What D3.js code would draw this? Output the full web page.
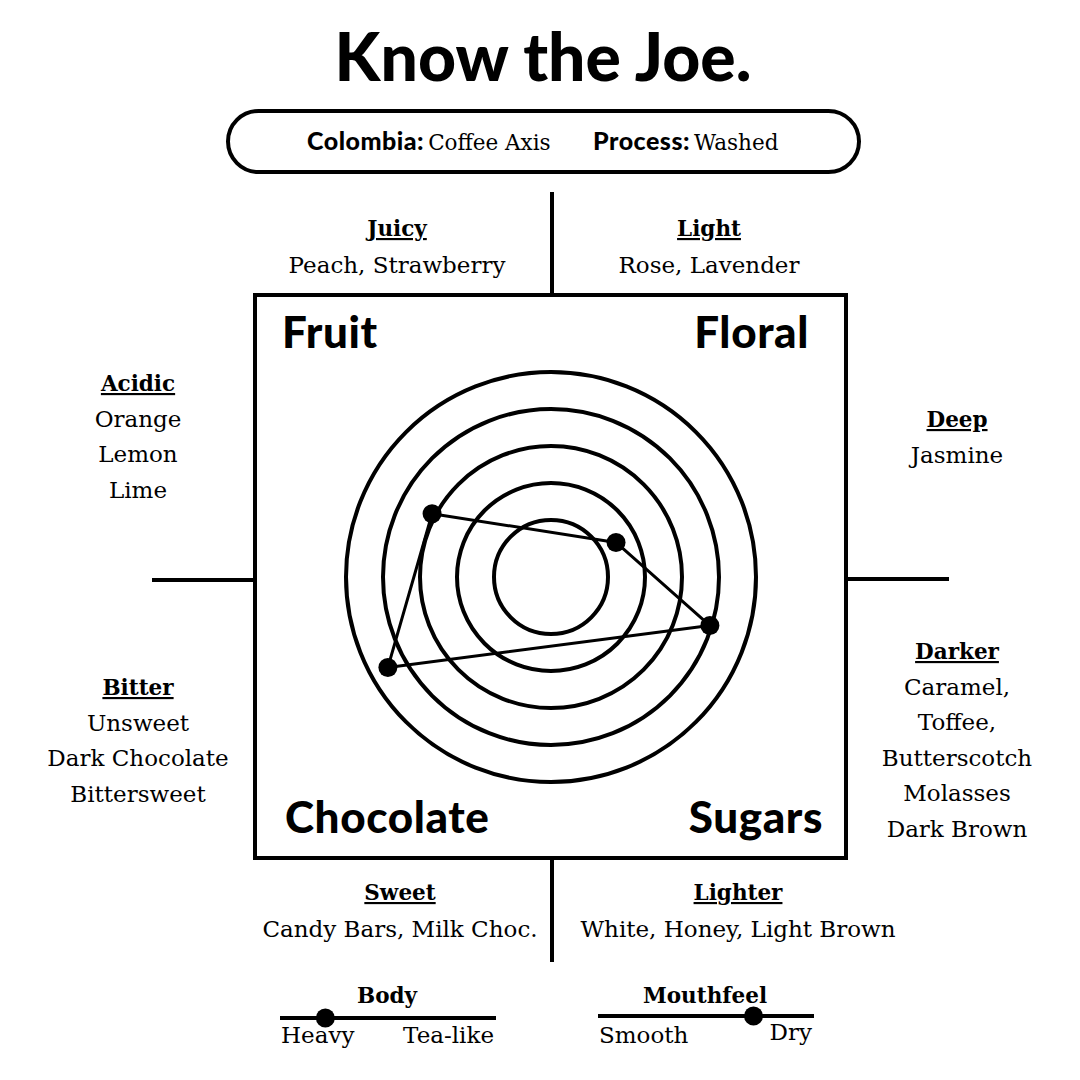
<!DOCTYPE html>
<html>
<head>
<meta charset="utf-8">
<script src="https://cdn.jsdelivr.net/npm/d3@7"></script>
<style>
  html, body { margin: 0; padding: 0; background: #fff; }
  svg { display: block; }
  .sans { font-family: Lato, "Open Sans", sans-serif; font-weight: 900; }
  .serif { font-family: "DejaVu Serif", serif; }
</style>
</head>
<body>
<div id="chart"></div>
<script>
// ---- data ----
const origin = "Colombia:", originName = "Coffee Axis"
const processLabel = "Process:", processName = "Washed"

const flavours = ["Fruit", "Floral", "Sugars", "Chocolate"]
const flavourAngles = [-62, 62, 107, -119]      // degrees, clockwise from 12 o'clock
const flavourScores = [3.1, 1.45, 3.95, 4.5]     // ring units, 0..5
const ringLevels = [1, 2, 3, 4, 5]

const noteHeads = ["Juicy", "Light", "Acidic", "Deep", "Bitter", "Darker", "Sweet", "Lighter"]
const noteLines = [
    ["Peach, Strawberry"],
    ["Rose, Lavender"],
    ["Orange", "Lemon", "Lime"],
    ["Jasmine"],
    ["Unsweet", "Dark Chocolate", "Bittersweet"],
    ["Caramel,", "Toffee,", "Butterscotch", "Molasses", "Dark Brown"],
    ["Candy Bars, Milk Choc."],
    ["White, Honey, Light Brown"]
]

const sliderNames = ["Body", "Mouthfeel"]
const sliderEnds = [["Heavy", "Tea-like"], ["Smooth", "Dry"]]
const sliderValues = [0.21, 0.72]                 // 0 = left end, 1 = right end

// ---- layout ----
let width = 1080, height = 1080,
    svg = d3.select("#chart").append("svg")
        .attr("width", width)
        .attr("height", height)

const cx = 551, cy = 577
const box = {x0: 255, y0: 295, x1: 846, y1: 858}
const stroke = 4
const itemSize = 23, headSize = 21.5

//TITLE
svg.append("text")
    .attr("class", "sans")
    .attr("x", 543).attr("y", 81)
    .attr("text-anchor", "middle")
    .attr("font-size", 66)
    .text("Know the Joe.")

//ORIGIN PILL
svg.append("rect")
    .attr("x", 228).attr("y", 111)
    .attr("width", 631).attr("height", 61)
    .attr("rx", 30.5)
    .attr("fill", "none").attr("stroke", "#000").attr("stroke-width", stroke)

function pillText(x, label, name) {
    let t = svg.append("text").attr("x", x).attr("y", 150)
    t.append("tspan").attr("class", "sans").attr("font-size", 25)
        .attr("letter-spacing", 0.5).text(label)
    t.append("tspan").attr("class", "serif").attr("font-size", 21.5)
        .attr("dx", 4).text(name)
}
pillText(307, origin, originName)
pillText(593, processLabel, processName)

//FRAME + TICK LINES
const frame = svg.append("g").attr("stroke", "#000").attr("stroke-width", stroke).attr("fill", "none")
frame.append("rect")
    .attr("x", box.x0).attr("y", box.y0)
    .attr("width", box.x1 - box.x0).attr("height", box.y1 - box.y0)
frame.append("line").attr("x1", 552).attr("x2", 552).attr("y1", 192).attr("y2", box.y0)
frame.append("line").attr("x1", 552).attr("x2", 552).attr("y1", box.y1).attr("y2", 962)
frame.append("line").attr("x1", 152).attr("x2", box.x0).attr("y1", 580).attr("y2", 580)
frame.append("line").attr("x1", box.x1).attr("x2", 949).attr("y1", 579).attr("y2", 579)

//QUADRANT LABELS
const quadPos = [
    {x: 282, y: 348, anchor: "start"},
    {x: 809, y: 348, anchor: "end"},
    {x: 823, y: 833, anchor: "end"},
    {x: 285, y: 833, anchor: "start"}
]
svg.append("g").selectAll("text")
    .data(flavours)
    .enter().append("text")
    .attr("class", "sans")
    .attr("font-size", 44)
    .attr("letter-spacing", 0.6)
    .attr("x", (d, i) => quadPos[i].x)
    .attr("y", (d, i) => quadPos[i].y)
    .attr("text-anchor", (d, i) => quadPos[i].anchor)
    .text(d => d)

//RADAR
const r = d3.scaleLinear().domain([0, 5]).range([20, 205])
const radar = svg.append("g").attr("transform", "translate(" + cx + "," + cy + ")")

radar.selectAll("circle.ring")
    .data(ringLevels)
    .enter().append("circle")
    .attr("class", "ring")
    .attr("r", d => r(d))
    .attr("fill", "none")
    .attr("stroke", "#000")
    .attr("stroke-width", stroke)

const pts = flavours.map((f, i) => ({name: f, a: flavourAngles[i] * Math.PI / 180, v: flavourScores[i]}))
const line = d3.lineRadial()
    .angle(d => d.a)
    .radius(d => r(d.v))
    .curve(d3.curveLinearClosed)

radar.append("path")
    .datum(pts)
    .attr("d", line)
    .attr("fill", "none")
    .attr("stroke", "#000")
    .attr("stroke-width", 3)
    .attr("stroke-linejoin", "round")

radar.selectAll("circle.pt")
    .data(pts)
    .enter().append("circle")
    .attr("class", "pt")
    .attr("cx", d => d3.pointRadial(d.a, r(d.v))[0])
    .attr("cy", d => d3.pointRadial(d.a, r(d.v))[1])
    .attr("r", 9.5)
    .attr("fill", "#000")

//NOTES
const notePos = [
    {x: 397, y: 236}, {x: 709, y: 236},
    {x: 138, y: 391}, {x: 957, y: 427},
    {x: 138, y: 695}, {x: 957, y: 659},
    {x: 400, y: 900}, {x: 738, y: 900}
]
const lineGap = 35.5
const notes = svg.append("g").attr("class", "serif").attr("text-anchor", "middle")
    .selectAll("g")
    .data(noteHeads)
    .enter().append("g")
    .attr("transform", (d, i) => "translate(" + notePos[i].x + "," + notePos[i].y + ")")

notes.append("text")
    .attr("font-size", headSize)
    .attr("font-weight", 700)
    .attr("text-decoration", "underline")
    .text(d => d)

notes.each(function (d, i) {
    d3.select(this).selectAll("text.item")
        .data(noteLines[i])
        .enter().append("text")
        .attr("class", "item")
        .attr("font-size", itemSize)
        .attr("y", (t, j) => (j + 1) * lineGap + (i < 2 || i > 5 ? 1.5 : 0))
        .text(t => t)
})

//SLIDERS
const sliderX = [[280, 496], [598, 814]]
const sliderY = [1018, 1016]
sliderNames.forEach((name, i) => {
    let x = d3.scaleLinear().domain([0, 1]).range(sliderX[i])
    let g = svg.append("g").attr("class", "serif")
    g.append("line")
        .attr("x1", x(0)).attr("x2", x(1))
        .attr("y1", sliderY[i]).attr("y2", sliderY[i])
        .attr("stroke", "#000").attr("stroke-width", stroke)
    g.append("circle")
        .attr("cx", x(sliderValues[i])).attr("cy", sliderY[i])
        .attr("r", 9.5).attr("fill", "#000")
    g.append("text")
        .attr("x", (x(0) + x(1)) / 2 - 1).attr("y", 1003)
        .attr("text-anchor", "middle")
        .attr("font-size", headSize).attr("font-weight", 700)
        .text(name)
    g.append("text")
        .attr("x", x(0) + 1).attr("y", 1043)
        .attr("font-size", itemSize)
        .text(sliderEnds[i][0])
    g.append("text")
        .attr("x", x(1) - 2).attr("y", i === 0 ? 1043 : 1040)
        .attr("text-anchor", "end")
        .attr("font-size", itemSize)
        .text(sliderEnds[i][1])
})
</script>
</body>
</html>
